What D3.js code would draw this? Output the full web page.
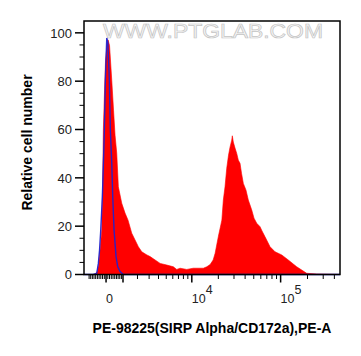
<!DOCTYPE html>
<html>
<head>
<meta charset="utf-8">
<script src="https://cdn.jsdelivr.net/npm/d3@7"></script>
<style>
  html, body { margin: 0; padding: 0; background: #fff; }
  svg { display: block; font-family: "Liberation Sans", Arial, sans-serif; }
</style>
</head>
<body>
<svg id="chart" width="361" height="356"></svg>
<script>
// ---- data (fluorescence intensity, relative cell number) ----
const sampleX = [-697, -519, -431, -344, -246, -200, -155, -86, -29, 57, 114, 200, 327, 431, 519, 619, 715, 922, 1130, 1326, 1579, 1817, 2068, 2344, 2792, 3100, 3619, 4197, 5086, 6095, 6687, 7313, 8743, 10399, 13540, 14813, 16160, 17476, 18408, 20056, 21909, 22770, 23790, 24875, 26050, 27070, 28290, 28730, 29490, 30820, 32210, 33570, 35070, 36450, 38200, 40950, 43450, 47440, 50350, 53980, 58780, 61900, 66890, 76090, 86550, 102900, 121900, 151400, 196000, 253700, 462500];
const sampleY = [0, 1.0, 3.9, 10.1, 18.4, 34.9, 59.7, 76.2, 88.6, 94.8, 97.1, 94.8, 80.4, 68.0, 57.6, 50.2, 36.3, 29.5, 25.4, 22.5, 17.1, 14.3, 11.5, 9.4, 8.1, 7.4, 6.0, 4.6, 3.9, 3.2, 2.1, 2.6, 2.1, 2.6, 2.6, 3.2, 4.1, 6.0, 8.8, 15.9, 22.5, 30.8, 36.3, 44.0, 49.4, 52.7, 55.6, 57.4, 54.8, 52.3, 50.1, 47.3, 46.0, 41.9, 37.7, 34.9, 30.8, 26.7, 23.3, 21.2, 19.8, 18.0, 15.6, 11.5, 9.4, 8.1, 6.0, 3.2, 0.5, 0.2, 0];
const controlX = [-1330, -757, -537, -443, -373, -304, -212, -155, -97, -40, 40, 103, 189, 246, 327, 385, 461, 578, 679, 818, 1022, 462500];
const controlY = [0, 0, 0.5, 4.6, 10.1, 18.4, 32.1, 45.2, 59.7, 80.4, 97.9, 96.1, 80.4, 59.7, 46.0, 32.1, 18.4, 7.4, 3.2, 1.2, 0, 0];

const yTicks = [0, 20, 40, 60, 80, 100];
const yMinorTicks = [5, 10, 15, 25, 30, 35, 45, 50, 55, 65, 70, 75, 85, 90, 95];
const xLabelTicks = [0, 10000, 100000];
const xLabelText = ["0", "10", "10"];
const xLabelSup = ["", "4", "5"];
const xMajorTicks = [0, 1000, 10000, 100000];
const xMinorTicks = [-1000, -900, -800, -700, -600, -500, -400, -300, -200, -100,
  100, 200, 300, 400, 500, 600, 700, 800, 900,
  2000, 3000, 4000, 5000, 6000, 7000, 8000, 9000,
  20000, 30000, 40000, 50000, 60000, 70000, 80000, 90000,
  200000, 300000, 400000];
const xDomain = [-1330, 462500];
const yDomain = [0, 104.9];
const biexWidth = 2217;
const xTitle = "PE-98225(SIRP Alpha/CD172a),PE-A";
const yTitle = "Relative cell number";
const watermark = "WWW.PTGLAB.COM";

// ---- layout ----
const L = 84, R = 340, T = 21, B = 274.5;
const svg = d3.select("#chart");

const tf = v => Math.asinh(v / biexWidth);
const xLin = d3.scaleLinear().domain(xDomain.map(tf)).range([L, R]);
const x = v => xLin(tf(v));
const y = d3.scaleLinear().domain(yDomain).range([B, T]);

// watermark
svg.append("text")
  .attr("x", 103).attr("y", 38)
  .attr("textLength", 220).attr("lengthAdjust", "spacingAndGlyphs")
  .style("font-size", "20px")
  .style("fill", "#f6f6f6").style("stroke", "#c4c4c4").style("stroke-width", 0.7)
  .text(watermark);

// sample (red filled)
const sample = sampleX.map((v, i) => [v, sampleY[i]]);
svg.append("path")
  .datum(sample)
  .attr("d", d3.area().x(d => x(d[0])).y0(y(0)).y1(d => y(d[1])))
  .attr("fill", "#ff0000").attr("stroke", "#ff0000").attr("stroke-width", 0.6);

// control (blue line)
const control = controlX.map((v, i) => [v, controlY[i]]);
svg.append("path")
  .datum(control)
  .attr("d", d3.line().x(d => x(d[0])).y(d => y(d[1])))
  .attr("fill", "none").attr("stroke", "#2222cc").attr("stroke-width", 1.4)
  .attr("stroke-opacity", 0.95);

// frame
svg.append("rect")
  .attr("x", L).attr("y", T).attr("width", R - L).attr("height", B - T)
  .attr("fill", "none").attr("stroke", "#000").attr("stroke-width", 1.5);

// y axis ticks
const gy = svg.append("g");
gy.selectAll("line.maj").data(yTicks).join("line")
  .attr("x1", L - 9).attr("x2", L).attr("y1", d => y(d)).attr("y2", d => y(d))
  .attr("stroke", "#000").attr("stroke-width", 1.5);
gy.selectAll("line.min").data(yMinorTicks).join("line")
  .attr("x1", L - 4.5).attr("x2", L).attr("y1", d => y(d)).attr("y2", d => y(d))
  .attr("stroke", "#000").attr("stroke-width", 1);
gy.selectAll("text").data(yTicks).join("text")
  .attr("x", L - 12).attr("y", d => y(d)).attr("dy", "0.36em")
  .attr("text-anchor", "end")
  .style("font-size", "13px").style("fill", "#222")
  .text(d => d);

// x axis ticks
const gx = svg.append("g");
gx.selectAll("line.maj").data(xMajorTicks).join("line")
  .attr("x1", d => x(d)).attr("x2", d => x(d)).attr("y1", B).attr("y2", B + 8)
  .attr("stroke", "#000").attr("stroke-width", 1.5);
gx.selectAll("line.min").data(xMinorTicks).join("line")
  .attr("x1", d => x(d)).attr("x2", d => x(d)).attr("y1", B).attr("y2", B + 4.5)
  .attr("stroke", "#000").attr("stroke-width", 1);
const lab = gx.selectAll("text").data(xLabelTicks).join("text")
  .attr("x", d => x(d)).attr("y", 303)
  .attr("text-anchor", "start")
  .style("font-size", "12.5px").style("fill", "#222");
lab.append("tspan").text((d, i) => xLabelText[i]);
lab.append("tspan").attr("dy", -9).text((d, i) => xLabelSup[i]);

// titles
svg.append("text")
  .attr("x", 212).attr("y", 333).attr("text-anchor", "middle")
  .style("font-size", "14px").style("font-weight", "bold").style("fill", "#000")
  .text(xTitle);
svg.append("text")
  .attr("transform", "translate(31.5,142.5) rotate(-90)")
  .attr("text-anchor", "middle")
  .style("font-size", "14px").style("font-weight", "bold").style("fill", "#000")
  .text(yTitle);
</script>
</body>
</html>
